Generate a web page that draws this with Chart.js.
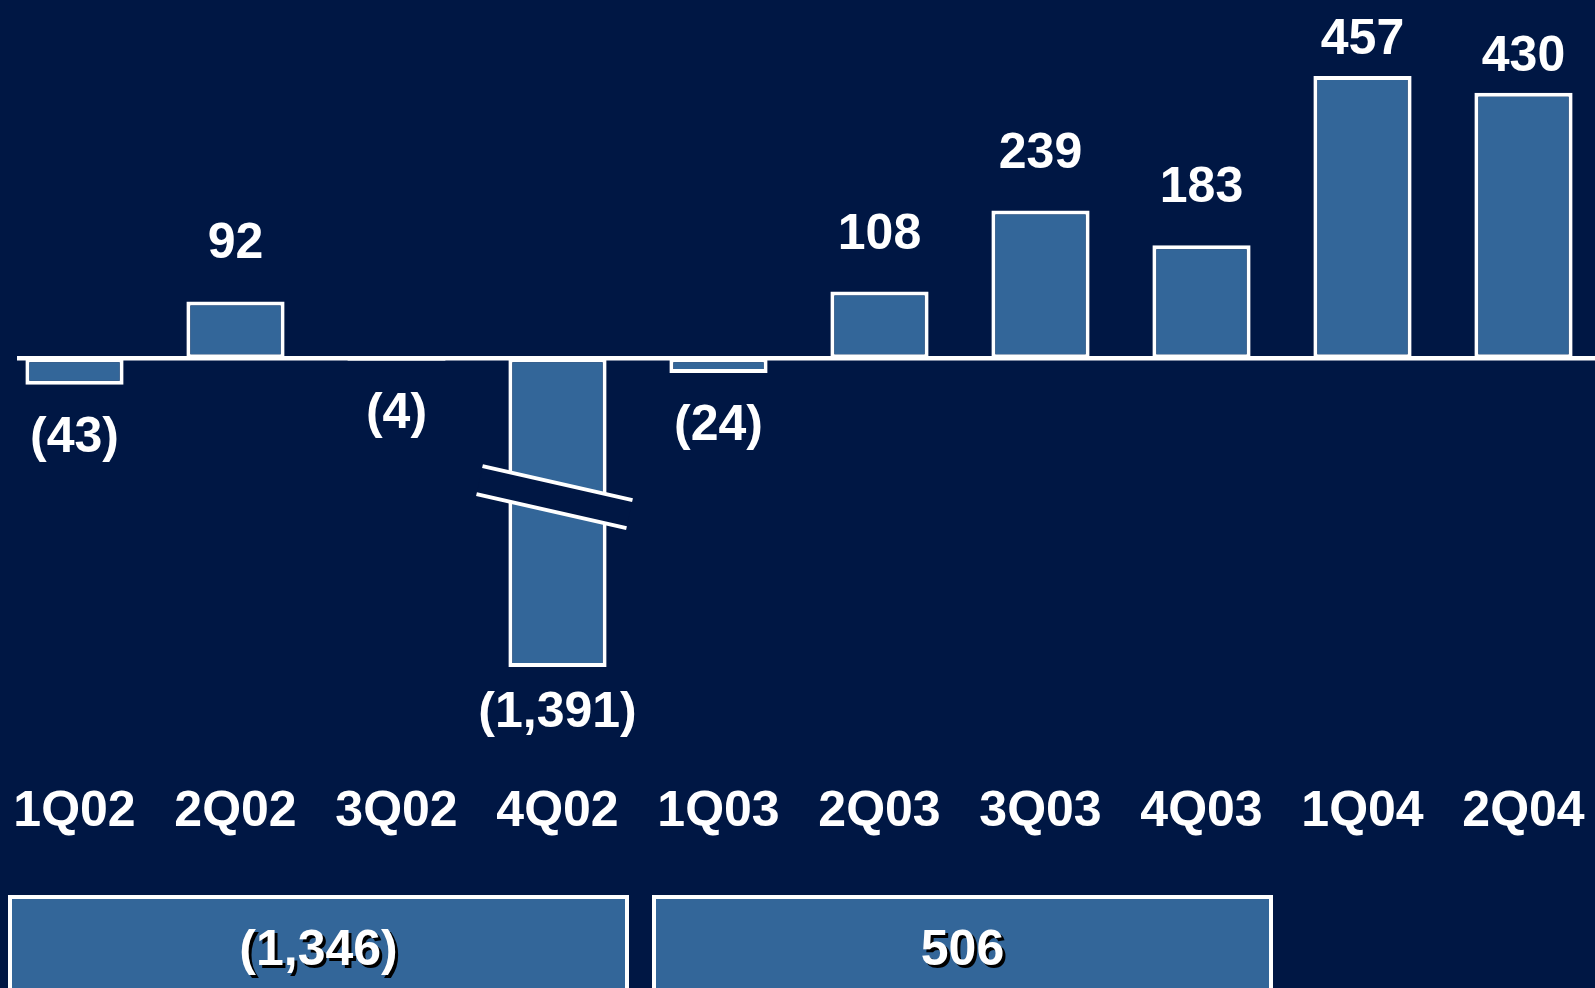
<!DOCTYPE html>
<html lang="en">
<head>
<meta charset="utf-8">
<title>Net income by quarter</title>
<script src="https://cdn.jsdelivr.net/npm/chart.js@4.4.1/dist/chart.umd.min.js"></script>
<style>
  html, body { margin: 0; padding: 0; background: #001744; overflow: hidden; }
  #wrap { position: relative; width: 1595px; height: 988px; overflow: hidden; }
  #incomeChart { position: absolute; left: -6px; top: 0; }
</style>
</head>
<body>
<div id="wrap">
  <canvas id="incomeChart" width="1610" height="988"></canvas>
</div>
<script>
// Datos del gráfico
const quarters = ['1Q02', '2Q02', '3Q02', '4Q02', '1Q03', '2Q03', '3Q03', '4Q03', '1Q04', '2Q04'];
const netIncome = [-43, 92, -4, -1391, -24, 108, 239, 183, 457, 430];
const yearTotals = [-1346, 506];
const yearSpans = [[0, 3], [4, 7]];

// Eje: la barra de 4Q02 se corta en axisMin (barra quebrada)
const axisMin = -500;
const axisMax = 580;
const breakAt = -225;

const fondo = '#001744';
const azul = '#336699';
const font = 'bold 50px "Liberation Sans", Arial, sans-serif';
const offsetX = 6; // el canvas está desplazado 6px a la izquierda

function formatValue(v) {
  const s = Math.abs(v).toLocaleString('en-US');
  return v < 0 ? `(${s})` : s;
}

const plotted = netIncome.map(v => Math.max(v, axisMin));

const overlay = {
  id: 'overlay',
  afterDatasetsDraw(chart) {
    const { ctx, scales: { x, y } } = chart;
    const meta = chart.getDatasetMeta(0);
    ctx.save();

    // marcas de corte
    netIncome.forEach((v, i) => {
      if (v >= axisMin) return;
      const cx = meta.data[i].x;
      const cy = y.getPixelForValue(breakAt);
      const dx = 75, dy = 17;
      ctx.fillStyle = fondo;
      ctx.beginPath();
      ctx.moveTo(cx - dx, cy - 14 - dy);
      ctx.lineTo(cx + dx, cy - 14 + dy);
      ctx.lineTo(cx + dx - 6, cy + 14 + dy);
      ctx.lineTo(cx - dx - 6, cy + 14 - dy);
      ctx.closePath();
      ctx.fill();
      ctx.strokeStyle = '#ffffff';
      ctx.lineWidth = 4;
      ctx.beginPath();
      ctx.moveTo(cx - dx, cy - 14 - dy);
      ctx.lineTo(cx + dx, cy - 14 + dy);
      ctx.moveTo(cx - dx - 6, cy + 14 - dy);
      ctx.lineTo(cx + dx - 6, cy + 14 + dy);
      ctx.stroke();
    });

    // línea de cero
    const zeroY = y.getPixelForValue(0);
    ctx.strokeStyle = '#ffffff';
    ctx.lineWidth = 4.5;
    ctx.beginPath();
    ctx.moveTo(17 + offsetX, zeroY);
    ctx.lineTo(chart.width, zeroY);
    ctx.stroke();

    // etiquetas de valores
    ctx.font = font;
    ctx.fillStyle = '#ffffff';
    ctx.textAlign = 'center';
    ctx.textBaseline = 'alphabetic';
    netIncome.forEach((v, i) => {
      const bar = meta.data[i];
      const top = Math.min(bar.y, bar.base);
      const bottom = Math.max(bar.y, bar.base);
      let baseline;
      if (v >= 0) {
        const gap = top - 43 - 36 < 15 ? 22 : 43;
        baseline = top - gap;
      } else {
        const gap = v < axisMin ? 24 : 31;
        baseline = bottom + gap + 36;
      }
      ctx.fillText(formatValue(v), bar.x, baseline);
    });

    // etiquetas de trimestres
    quarters.forEach((q, i) => {
      ctx.fillText(q, x.getPixelForValue(i), 826);
    });

    // cajas de totales anuales
    const cw = x.width / quarters.length;
    yearTotals.forEach((total, k) => {
      const [s, e] = yearSpans[k];
      const left = x.getPixelForValue(s) - cw / 2 + 14;
      const right = x.getPixelForValue(e) + cw / 2 - 9;
      const top = 895;
      ctx.fillStyle = azul;
      ctx.fillRect(left, top, right - left, 120);
      ctx.strokeStyle = '#ffffff';
      ctx.lineWidth = 4;
      ctx.strokeRect(left + 2, top + 2, right - left - 4, 120);

      ctx.save();
      ctx.shadowColor = '#000000';
      ctx.shadowOffsetX = 3;
      ctx.shadowOffsetY = 3;
      ctx.shadowBlur = 0;
      ctx.fillStyle = '#ffffff';
      ctx.fillText(formatValue(total), (left + right) / 2, 965);
      ctx.restore();
    });

    ctx.restore();
  }
};

const ctx = document.getElementById('incomeChart').getContext('2d');
new Chart(ctx, {
  type: 'bar',
  data: {
    labels: quarters,
    datasets: [{
      label: 'Net income',
      data: plotted,
      backgroundColor: azul,
      borderColor: '#ffffff',
      borderWidth: 4,
      borderSkipped: false,
      barPercentage: 0.61,
      categoryPercentage: 1,
      clip: false,
    }],
  },
  options: {
    responsive: false,
    animation: false,
    events: [],
    layout: { padding: { top: 0, left: 0, right: 0, bottom: 321 } },
    plugins: {
      legend: { display: false },
      tooltip: { enabled: false },
    },
    scales: {
      x: { display: false },
      y: { display: false, min: axisMin, max: axisMax },
    },
  },
  plugins: [overlay],
});
</script>
</body>
</html>
